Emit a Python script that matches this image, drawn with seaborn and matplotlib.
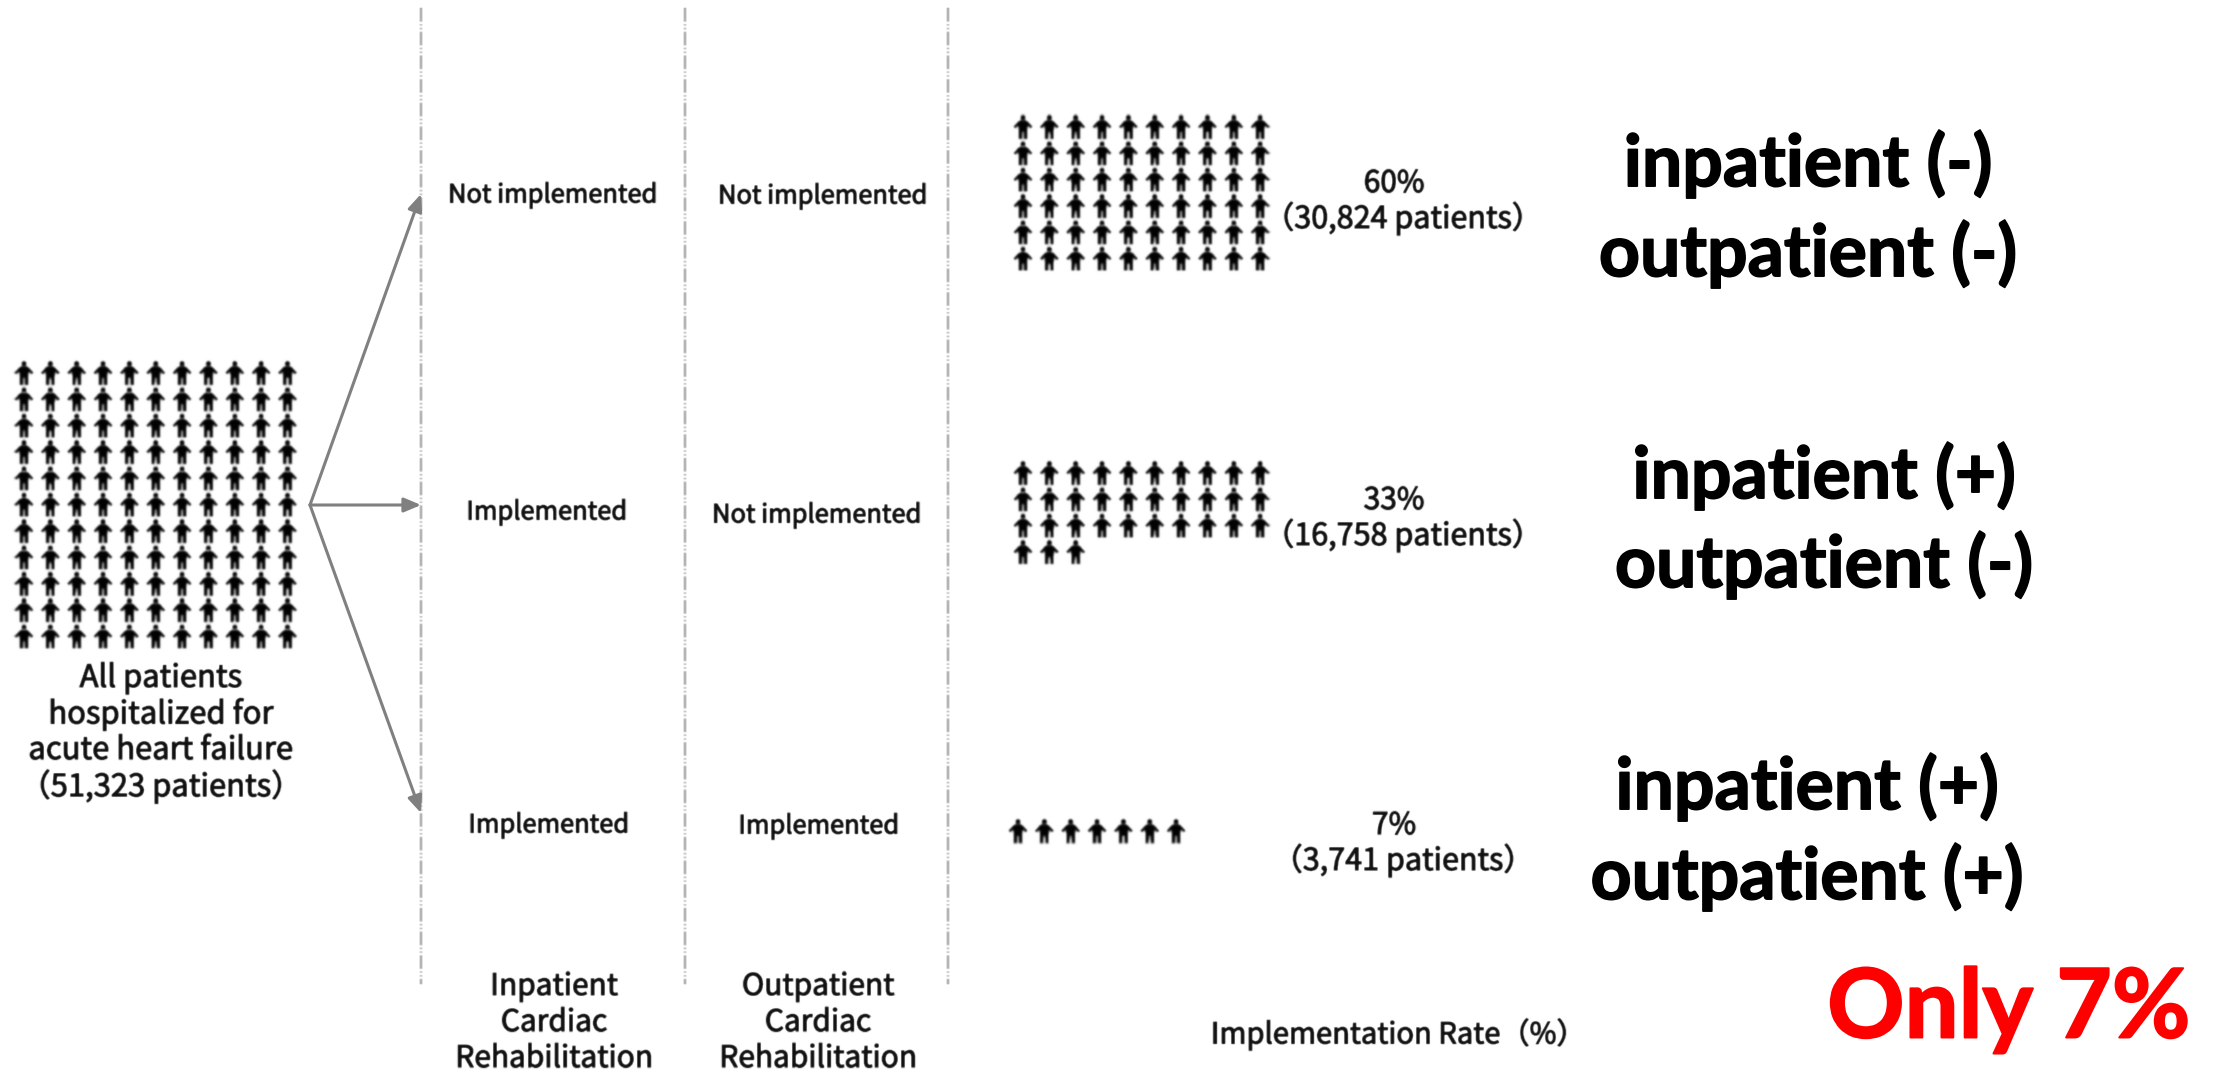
import numpy as np
import pandas as pd
import matplotlib
matplotlib.use("Agg")
import matplotlib.pyplot as plt
import matplotlib.patheffects as pe
from matplotlib.path import Path
import seaborn as sns

# Cohort sizes and the pictogram counts that stand for them
cohort_labels = ["All", "None", "Inpatient only", "Both"]
icon_counts = [121, 60, 33, 7]
icon_columns = [11, 10, 10, 7]
patient_counts = [51323, 30824, 16758, 3741]
rate_labels = ["60%", "33%", "7%"]
rate_patients = ["（30,824 patients）", "（16,758 patients）", "（3,741 patients）"]
inpatient_status = ["Not implemented", "Implemented", "Implemented"]
outpatient_status = ["Not implemented", "Not implemented", "Implemented"]
summary_lines = [["inpatient (-)", "outpatient (-)"],
                 ["inpatient (+)", "outpatient (-)"],
                 ["inpatient (+)", "outpatient (+)"]]

# Layout in canvas pixels
grid_origin = [(24, 373), (1023, 127), (1023, 473), (1018, 831)]
grid_step = 26.35
divider_x = [421, 685, 948]
W, H = 2215, 1072
CJK = "Noto Sans CJK JP"
INK = "#111111"


def soften(radius):
    """Return an agg filter applying a small separable blur."""
    kernel = np.exp(-0.5 * (np.arange(-4, 5) / radius) ** 2)
    kernel /= kernel.sum()

    def _filter(img, dpi):
        pad = 6
        out = np.pad(img, ((pad, pad), (pad, pad), (0, 0)), mode="constant")
        for axis in (0, 1):
            out = np.apply_along_axis(lambda v: np.convolve(v, kernel, mode="same"), axis, out)
        return out, -pad, -pad
    return _filter


def person_marker():
    """Standing figure: round head, arms held away from the body, two legs."""
    half = [(0.12, 0.58), (0.36, 0.50), (0.80, 0.02), (0.62, -0.14), (0.40, 0.10),
            (0.38, -0.20), (0.38, -1.0), (0.07, -1.0), (0.05, -0.40)]
    outline = half + [(-x, y) for x, y in reversed(half)]
    body = Path(outline + [outline[0]],
                [Path.MOVETO] + [Path.LINETO] * (len(outline) - 1) + [Path.CLOSEPOLY])
    head = Path.circle((0, 0.77), 0.23)
    return Path.make_compound_path(body, head)


sns.set_theme(style="white")
plt.rcParams["font.family"] = [CJK, "DejaVu Sans"]

fig, ax = plt.subplots(figsize=(W / 100, H / 100), dpi=100)
fig.subplots_adjust(0, 0, 1, 1)

# Pictograms: every group is filled row by row from its icon count
rows = []
for name, n, cols, (x0, y0) in zip(cohort_labels, icon_counts, icon_columns, grid_origin):
    for i in range(n):
        rows.append({"group": name,
                     "x": x0 + (i % cols) * grid_step,
                     "y": y0 + (i // cols) * grid_step})
icons = pd.DataFrame(rows)
sns.scatterplot(data=icons, x="x", y="y", marker=person_marker(), s=310,
                color="black", edgecolor="none", linewidth=0, legend=False, ax=ax)
ax.collections[-1].set_agg_filter(soften(0.8))
ax.set_xlim(0, W)
ax.set_ylim(H, 0)
ax.axis("off")

# Column separators
for x in divider_x:
    line, = ax.plot([x, x], [8, 984], color="#a6a6a6", lw=1.1,
                    linestyle=(0, (9, 1.5, 1, 1.5, 1, 1.5)))
    line.set_agg_filter(soften(0.6))

# Flow arrows out of the full cohort
arrow_start = (310, 505)
for tip in [(421, 194), (421, 505), (421, 813)]:
    ax.annotate("", xy=tip, xytext=arrow_start,
                arrowprops=dict(arrowstyle="-|>,head_length=0.85,head_width=0.36",
                                color="#808080", lw=2.2, shrinkA=0, shrinkB=0))


def label(x, y, s, size=18.3):
    t = ax.text(x, y + 1.5, s, ha="center", va="center", fontsize=size, color=INK,
                family=[CJK, "DejaVu Sans"],
                path_effects=[pe.withStroke(linewidth=0.8, foreground=INK)])
    t.set_agg_filter(soften(0.6))
    return t


# Cohort caption
for y, s in zip([677, 713, 749, 785],
                ["All patients", "hospitalized for", "acute heart failure",
                 f"（{patient_counts[0]:,} patients）"]):
    label(161, y, s, size=22.3)

# Status columns
status_xy_in = [(553, 194), (547, 511), (549, 824)]
status_xy_out = [(823, 195), (817, 514), (819, 825)]
for (x, y), s in zip(status_xy_in, inpatient_status):
    label(x, y, s)
for (x, y), s in zip(status_xy_out, outpatient_status):
    label(x, y, s)

# Column headings
for x, head in [(554, "Inpatient"), (818, "Outpatient")]:
    for y, s in zip([985, 1021, 1057], [head, "Cardiac", "Rehabilitation"]):
        label(x, y, s, size=21.5)

# Rates
for y, rate, pat in zip([182, 499, 824], rate_labels, rate_patients):
    label(1394, y, rate, size=21.5)
    label(1403, y + 35, pat, size=22)
label(1398, 1033, "Implementation Rate（%）", size=21)

# Summary of each pathway
bold_edge = [pe.withStroke(linewidth=1.2, foreground="black")]
summary_xy = [(1808, 164, 254), (1824, 476, 565), (1807, 787, 877)]
for (x, y1, y2), (a, b) in zip(summary_xy, summary_lines):
    for y, s in ((y1, a), (y2, b)):
        ax.text(x, y, s, ha="center", va="center", fontsize=51.5, fontweight="bold",
                color="black", family=["Lato", "DejaVu Sans"], path_effects=bold_edge)

ax.text(2009, 1010, "Only 7%", ha="center", va="center", fontsize=69, fontweight="bold",
        color="#ff0000", family=["Lato", "DejaVu Sans"],
        path_effects=[pe.withStroke(linewidth=1.4, foreground="#ff0000")])

fig.savefig("out.png", dpi=100, facecolor="white")
